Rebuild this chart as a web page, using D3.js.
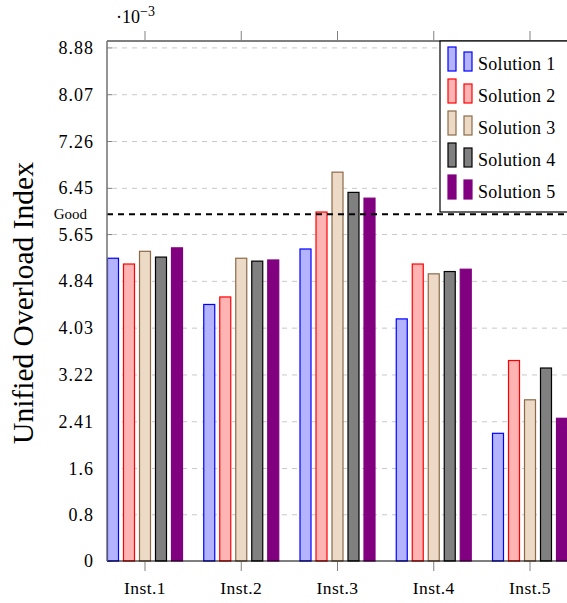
<!DOCTYPE html>
<html>
<head>
<meta charset="utf-8">
<script src="https://cdn.jsdelivr.net/npm/d3@7"></script>
<style>
  body { margin: 0; background: #fff; }
  text { font-family: "Liberation Serif", "DejaVu Serif", serif; }
</style>
</head>
<body>
<svg id="chart" width="567" height="603"></svg>
<script>
  // values are in units of 1e-3
  var instances = ['Inst.1', 'Inst.2', 'Inst.3', 'Inst.4', 'Inst.5']
  var solutions = ['Solution 1', 'Solution 2', 'Solution 3', 'Solution 4', 'Solution 5']
  var sol1 = [5.24, 4.44, 5.40, 4.19, 2.21]
  var sol2 = [5.14, 4.57, 6.04, 5.14, 3.47]
  var sol3 = [5.36, 5.24, 6.73, 4.97, 2.79]
  var sol4 = [5.26, 5.19, 6.38, 5.01, 3.34]
  var sol5 = [5.42, 5.21, 6.28, 5.05, 2.47]
  var yTicks = [0, 0.8, 1.6, 2.41, 3.22, 4.03, 4.84, 5.65, 6.45, 7.26, 8.07, 8.88]
  var goodLevel = 6.0

  var series = [sol1, sol2, sol3, sol4, sol5]
  var fills = ['#b3b3ff', '#ffb3b3', '#ecd9c6', '#808080', '#800080']
  var strokes = ['#0000ff', '#ff0000', '#8c6a48', '#000000', '#800080']

  var svg = d3.select('#chart')
  var mLeft = 107, mTop = 41, mRight = 568, mBottom = 561

  var x = d3.scalePoint()
    .domain(instances)
    .range([145, 530])

  var xi = d3.scaleBand()
    .domain(d3.range(solutions.length))
    .range([-37.5, 37.5])
    .paddingInner(0.3125)
    .paddingOuter(0)

  var y = d3.scaleLinear()
    .domain([0, 9.0])
    .range([mBottom, mTop])

  // grid
  svg.append('g').selectAll('line')
    .data(yTicks.slice(1))
    .enter().append('line')
    .attr('x1', mLeft).attr('x2', mRight)
    .attr('y1', function(d){ return y(d) }).attr('y2', function(d){ return y(d) })
    .style('stroke', '#c8c8c8')
    .style('stroke-width', 1)
    .style('stroke-dasharray', '5,5')
    .style('stroke-dashoffset', -5)

  // y ticks inside axis
  svg.append('g').selectAll('line')
    .data(yTicks)
    .enter().append('line')
    .attr('x1', mLeft).attr('x2', mLeft + 5)
    .attr('y1', function(d){ return y(d) }).attr('y2', function(d){ return y(d) })
    .style('stroke', '#808080')

  // tick labels
  svg.append('g').selectAll('text')
    .data(yTicks)
    .enter().append('text')
    .attr('x', mLeft - 13)
    .attr('y', function(d){ return y(d) + 6 })
    .attr('text-anchor', 'end')
    .style('font-size', '18px')
    .style('letter-spacing', '1px')
    .text(function(d){ return d })

  // bars
  series.forEach(function(vals, s){
    svg.append('g').selectAll('rect')
      .data(vals)
      .enter().append('rect')
      .attr('x', function(d, i){ return x(instances[i]) + xi(s) })
      .attr('y', function(d){ return y(d) })
      .attr('width', xi.bandwidth())
      .attr('height', function(d){ return y(0) - y(d) })
      .style('fill', fills[s])
      .style('stroke', strokes[s])
      .style('stroke-width', 1.2)
  })

  // good line
  svg.append('line')
    .attr('x1', mLeft).attr('x2', mRight)
    .attr('y1', y(goodLevel)).attr('y2', y(goodLevel))
    .style('stroke', 'black')
    .style('stroke-width', 2)
    .style('stroke-dasharray', '6,5')

  svg.append('text')
    .attr('x', mLeft - 20)
    .attr('y', y(goodLevel) + 5)
    .attr('text-anchor', 'end')
    .style('font-size', '15px')
    .text('Good')

  // axes frame
  svg.append('line')
    .attr('x1', mLeft).attr('x2', mRight).attr('y1', mTop).attr('y2', mTop)
    .style('stroke', 'black').style('stroke-width', 1.2)
  svg.append('line')
    .attr('x1', mLeft).attr('x2', mRight).attr('y1', mBottom).attr('y2', mBottom)
    .style('stroke', 'black').style('stroke-width', 1.2)
  svg.append('line')
    .attr('x1', mLeft).attr('x2', mLeft).attr('y1', mTop).attr('y2', mBottom)
    .style('stroke', '#707070').style('stroke-width', 1.5)

  // x ticks top and bottom
  svg.append('g').selectAll('line')
    .data(instances)
    .enter().append('line')
    .attr('x1', function(d){ return x(d) }).attr('x2', function(d){ return x(d) })
    .attr('y1', mBottom + 1).attr('y2', mBottom + 10)
    .style('stroke', '#808080')
  svg.append('g').selectAll('line')
    .data(instances)
    .enter().append('line')
    .attr('x1', function(d){ return x(d) }).attr('x2', function(d){ return x(d) })
    .attr('y1', mTop - 1).attr('y2', mTop - 10)
    .style('stroke', '#808080')

  svg.append('g').selectAll('text')
    .data(instances)
    .enter().append('text')
    .attr('x', function(d){ return x(d) })
    .attr('y', 594)
    .attr('text-anchor', 'middle')
    .style('font-size', '17.5px')
    .style('letter-spacing', '0.4px')
    .text(function(d){ return d })

  // scale label
  var sc = svg.append('text')
    .attr('x', 116).attr('y', 23)
    .style('font-size', '18px')
  sc.append('tspan').text('·10')
  sc.append('tspan').attr('dy', -7).style('font-size', '14px').text('−3')

  // y label
  svg.append('text')
    .attr('transform', 'translate(33,303) rotate(-90)')
    .attr('text-anchor', 'middle')
    .style('font-size', '29.5px')
    .text('Unified Overload Index')

  // legend
  var lg = svg.append('g')
  lg.append('rect')
    .attr('x', 440).attr('y', mTop)
    .attr('width', 140).attr('height', 171)
    .style('fill', 'white')
    .style('stroke', 'black')
    .style('stroke-width', 1.2)
  solutions.forEach(function(name, s){
    var ry = 47 + s * 32
    lg.append('rect')
      .attr('x', 448).attr('y', ry)
      .attr('width', 8).attr('height', 24)
      .style('fill', fills[s]).style('stroke', strokes[s]).style('stroke-width', 1.2)
    lg.append('rect')
      .attr('x', 464).attr('y', ry + 5)
      .attr('width', 8).attr('height', 19)
      .style('fill', fills[s]).style('stroke', strokes[s]).style('stroke-width', 1.2)
    lg.append('text')
      .attr('x', 478).attr('y', ry + 23)
      .style('font-size', '18px')
      .style('letter-spacing', '0.3px')
      .text(name)
  })
</script>
</body>
</html>
